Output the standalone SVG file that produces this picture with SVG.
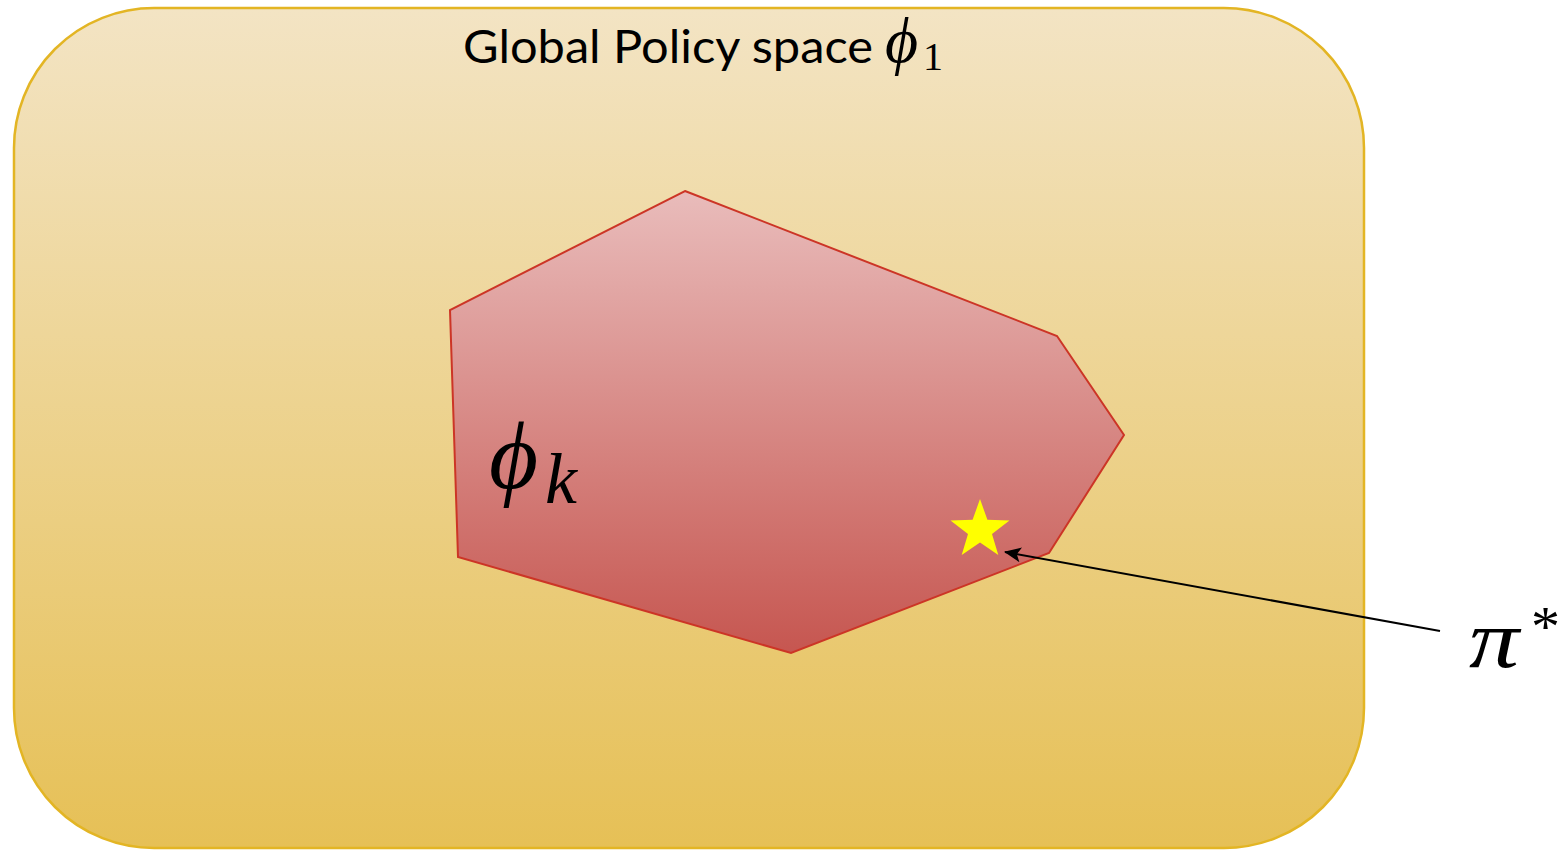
<svg xmlns="http://www.w3.org/2000/svg" width="1558" height="852" viewBox="0 0 1558 852">
<defs>
<linearGradient id="gOuter" x1="0" y1="0" x2="0" y2="1">
<stop offset="0" stop-color="#f3e4c4"/>
<stop offset="1" stop-color="#e6c056"/>
</linearGradient>
<linearGradient id="gInner" x1="0" y1="0" x2="0" y2="1">
<stop offset="0" stop-color="#e9bcbb"/>
<stop offset="1" stop-color="#c65650"/>
</linearGradient>
<marker id="arr" viewBox="0 0 17 15" refX="16" refY="7.5" markerWidth="17" markerHeight="15" orient="auto" markerUnits="userSpaceOnUse">
<path d="M0,0 L17,7.5 L0,15 L4,7.5 Z" fill="#000"/>
</marker>
<style>
.math{font-family:"Liberation Serif","DejaVu Serif",serif;font-style:italic;fill:#000}
.num{font-family:"Liberation Serif","DejaVu Serif",serif;font-style:normal;fill:#000}
.lbl{font-family:Lato,"Open Sans",sans-serif;fill:#000}
</style>
</defs>
<g id="global-space">
<rect x="14" y="8" width="1350" height="840" rx="140" ry="140" fill="url(#gOuter)" stroke="#e3b524" stroke-width="2.5"/>
<text class="lbl" x="463" y="63" font-size="46" textLength="410" lengthAdjust="spacingAndGlyphs">Global Policy space</text>
<text class="math" x="885" y="62" font-size="64">ϕ</text>
<text class="num" x="923" y="70" font-size="40">1</text>
</g>
<g id="local-space">
<polygon points="685,191 1057,336 1124,435 1049,553 791,653 458,557 450,310" fill="url(#gInner)" stroke="#cc3526" stroke-width="2"/>
<text class="math" x="489" y="488" font-size="95">ϕ</text>
<text class="math" x="545" y="503" font-size="72">k</text>
</g>
<g id="optimum">
<polygon points="980,499 987.4,519.8 1009.5,520.4 992,533.9 998.3,555.1 980,542.6 961.7,555.1 968,533.9 950.5,520.4 972.6,519.8" fill="#ffff00"/>
</g>
<g id="connectors">
<line x1="1440" y1="631" x2="1005" y2="552" stroke="#000" stroke-width="2" marker-end="url(#arr)"/>
</g>
<g id="pi-label">
<text class="math" transform="translate(1469,667) scale(1.22,1)" x="0" y="0" font-size="82">π</text>
<text class="num" x="1531" y="646" font-size="58">*</text>
</g>
</svg>
